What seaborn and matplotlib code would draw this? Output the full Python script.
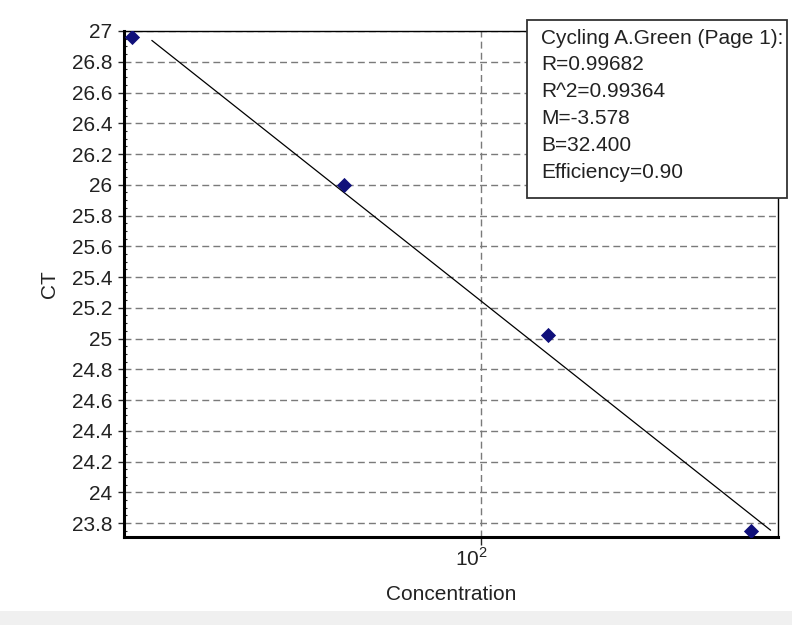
import numpy as np
import pandas as pd
import matplotlib
matplotlib.use("Agg")
import matplotlib.pyplot as plt
import matplotlib.transforms as mtransforms
from matplotlib.patches import Rectangle
from matplotlib.ticker import FixedLocator, FixedFormatter, MultipleLocator, NullLocator
import seaborn as sns

# Standard-curve samples: concentration vs threshold cycle
concentration = [31.5, 63.5, 125.0, 245.0]
ct_values = [26.96, 26.00, 25.02, 23.75]

# Regression parameters reported for the run
slope_m = -3.578
intercept_b = 32.400
fit_span = [33.6, 261.0]

stats_lines = [
    "Cycling A.Green (Page 1):",
    "R=0.99682",
    "R^2=0.99364",
    "M=-3.578",
    "B=32.400",
    "Efficiency=0.90",
]

y_ticks = [23.8, 24.0, 24.2, 24.4, 24.6, 24.8, 25.0, 25.2, 25.4, 25.6,
           25.8, 26.0, 26.2, 26.4, 26.6, 26.8, 27.0]
y_tick_labels = ["23.8", "24", "24.2", "24.4", "24.6", "24.8", "25", "25.2",
                 "25.4", "25.6", "25.8", "26", "26.2", "26.4", "26.6", "26.8", "27"]
x_ticks = [100]
x_tick_labels = [r"$10^{2}$"]

sns.set_style("white")
plt.rcParams["font.family"] = ["Liberation Sans", "DejaVu Sans"]
plt.rcParams["mathtext.fontset"] = "custom"
plt.rcParams["mathtext.rm"] = "Liberation Sans"
plt.rcParams["font.size"] = 15

FS = 15
W, H = 792, 625
fig = plt.figure(figsize=(W / 100, H / 100), dpi=100)
fig.patch.set_facecolor("white")

# light strip along the bottom edge of the window
fig.add_artist(Rectangle((0, 0), 1, 14 / H, transform=fig.transFigure,
                         facecolor="#f0f0f0", edgecolor="none", zorder=0))

ax_l, ax_r, ax_t, ax_b = 124, 778, 31, 537
ax = fig.add_axes([ax_l / W, 1 - ax_b / H, (ax_r - ax_l) / W, (ax_b - ax_t) / H])
ax.set_facecolor("white")

points = pd.DataFrame({"Concentration": concentration, "CT": ct_values})
fit_line = pd.DataFrame({
    "Concentration": fit_span,
    "CT": [intercept_b + slope_m * np.log10(c) for c in fit_span],
})

ax.set_xscale("log")
sns.lineplot(data=fit_line, x="Concentration", y="CT", ax=ax, color="black",
             linewidth=0.9, zorder=3)
sns.scatterplot(data=points, x="Concentration", y="CT", ax=ax, marker="D",
                s=60, color="#10107a", edgecolor="#10107a", linewidth=0, zorder=4)

ax.set_xlim(30.64, 267.5)
ax.set_ylim(23.709, 27.0)

ax.xaxis.set_major_locator(FixedLocator(x_ticks))
ax.xaxis.set_major_formatter(FixedFormatter(x_tick_labels))
ax.xaxis.set_minor_locator(NullLocator())
ax.yaxis.set_major_locator(FixedLocator(y_ticks))
ax.yaxis.set_major_formatter(FixedFormatter(y_tick_labels))
ax.yaxis.set_minor_locator(MultipleLocator(0.05))

ax.grid(True, which="major", color="#7a7a7a", linestyle=(0, (5, 3)), linewidth=1.0)
ax.tick_params(axis="y", which="major", direction="out", length=4.5, width=1,
               pad=4, labelsize=FS, left=True)
ax.tick_params(axis="y", which="minor", direction="in", length=2, width=0.8,
               left=True)
ax.tick_params(axis="x", which="major", direction="out", length=6, width=1,
               pad=1, labelsize=FS, bottom=True)
for lbl in ax.get_yticklabels() + ax.get_xticklabels():
    lbl.set_color("#222222")

# the exponent sits right over the tick, the base to its left
shift = mtransforms.ScaledTranslation(7 / 100, 0, fig.dpi_scale_trans)
for lbl in ax.get_xticklabels():
    lbl.set_horizontalalignment("right")
    lbl.set_transform(lbl.get_transform() + shift)

for side in ["left", "bottom"]:
    ax.spines[side].set_linewidth(2.2)
    ax.spines[side].set_color("black")
for side in ["top", "right"]:
    ax.spines[side].set_linewidth(1.0)
    ax.spines[side].set_color("black")

ax.set_xlabel("Concentration", fontsize=FS, color="#222222")
ax.set_ylabel("CT", fontsize=FS, color="#222222")
ax.xaxis.set_label_coords(0.5, -0.095)
ax.xaxis.label.set_va("top")
ax.yaxis.set_label_coords(-0.1, 0.5)

# regression summary box
bx0, by0, bx1, by1 = 527, 20, 787, 198
fig.add_artist(Rectangle((bx0 / W, 1 - by1 / H), (bx1 - bx0) / W, (by1 - by0) / H,
                         transform=fig.transFigure, facecolor="white",
                         edgecolor="#333333", linewidth=1.3, zorder=10))
for i, line in enumerate(stats_lines):
    fig.text(541 / W, 1 - (38 + i * 26.8) / H, line, fontsize=FS, color="#222222",
             ha="left", va="center", zorder=11)

fig.savefig("out.png", dpi=100)
